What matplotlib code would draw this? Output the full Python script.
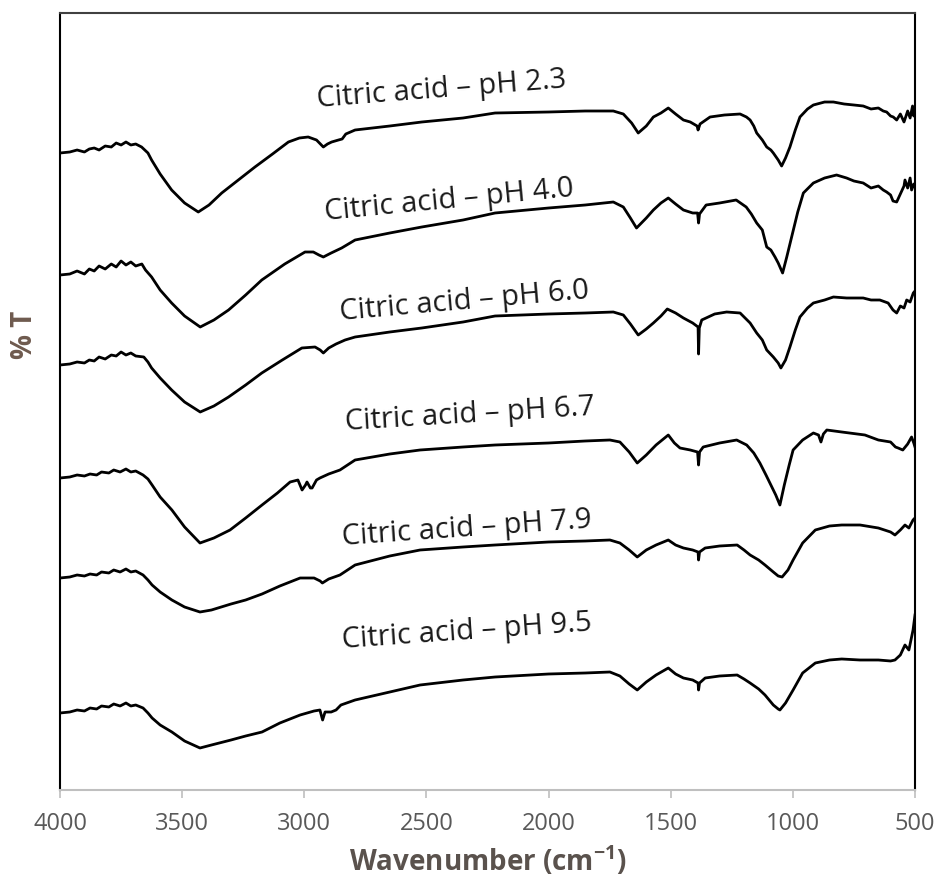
import matplotlib

matplotlib.use('Agg')

import matplotlib.pyplot as plt

plt.rcParams['font.family'] = ['Open Sans', 'DejaVu Sans']
plt.rcParams['mathtext.fontset'] = 'custom'
plt.rcParams['mathtext.rm'] = 'Open Sans'
plt.rcParams['mathtext.bf'] = 'Open Sans:bold'

# FTIR spectra (wavenumber, %T with stacking offset), one list per pH
ph23 = [(4000, 637), (3960, 638), (3930, 640), (3900, 638), (3880, 641), (3860, 642), (3840, 640),
        (3815, 644), (3790, 643), (3770, 647), (3750, 645), (3730, 648), (3710, 645), (3690, 646),
        (3666, 643), (3640, 637), (3625, 630), (3590, 616), (3543, 600), (3490, 587), (3434, 578),
        (3390, 585), (3338, 597), (3270, 610), (3202, 623), (3130, 636), (3065, 648), (3020, 652),
        (2984, 653), (2950, 650), (2922, 643), (2905, 646), (2888, 648), (2860, 650), (2845, 651),
        (2830, 656), (2792, 660), (2650, 664), (2519, 668), (2350, 672), (2219, 677), (2000, 678),
        (1850, 679), (1735, 679), (1694, 676), (1660, 667), (1633, 657), (1600, 664), (1571, 673),
        (1540, 677), (1510, 682), (1480, 676), (1448, 670), (1420, 668), (1392, 664), (1388, 660),
        (1380, 666), (1339, 673), (1280, 675), (1216, 676), (1190, 673), (1175, 670), (1160, 664),
        (1148, 657), (1125, 650), (1107, 643), (1090, 640), (1080, 637), (1060, 630), (1046, 624),
        (1030, 632), (1012, 643), (990, 660), (971, 673), (940, 681), (916, 685), (870, 688),
        (834, 688), (790, 686), (750, 685), (712, 684), (680, 681), (650, 682), (630, 679),
        (616, 678), (600, 674), (589, 673), (575, 670), (560, 676), (545, 668), (530, 679),
        (520, 672), (510, 684), (505, 674), (500, 680)]

ph40 = [(4000, 515), (3960, 516), (3930, 519), (3900, 516), (3880, 521), (3860, 519), (3840, 524),
        (3815, 521), (3790, 526), (3770, 523), (3750, 529), (3730, 525), (3710, 528), (3690, 524),
        (3665, 526), (3650, 520), (3625, 513), (3590, 500), (3543, 487), (3490, 474), (3426, 463),
        (3370, 470), (3310, 480), (3240, 495), (3174, 510), (3080, 526), (2997, 538), (2963, 538),
        (2940, 535), (2922, 533), (2890, 537), (2847, 542), (2792, 550), (2650, 557), (2519, 563),
        (2350, 570), (2219, 577), (2000, 582), (1850, 585), (1735, 588), (1694, 583), (1665, 572),
        (1640, 562), (1600, 572), (1571, 580), (1540, 587), (1510, 592), (1480, 586), (1448, 580),
        (1410, 577), (1390, 577), (1386, 567), (1382, 576), (1355, 585), (1300, 587), (1232, 590),
        (1191, 583), (1170, 576), (1148, 567), (1125, 560), (1107, 543), (1090, 540), (1073, 533),
        (1060, 527), (1042, 517), (1025, 533), (1005, 553), (980, 578), (957, 597), (916, 607),
        (870, 612), (821, 615), (780, 612), (750, 609), (712, 607), (680, 602), (650, 604),
        (630, 600), (616, 598), (600, 595), (590, 589), (575, 588), (560, 596), (545, 604),
        (541, 610), (530, 602), (520, 612), (514, 600), (505, 606), (500, 603)]

ph60 = [(4000, 425), (3960, 426), (3930, 428), (3900, 427), (3880, 430), (3860, 429), (3840, 433),
        (3815, 431), (3790, 435), (3770, 434), (3750, 438), (3730, 435), (3710, 437), (3690, 434),
        (3657, 433), (3640, 428), (3625, 422), (3590, 412), (3543, 400), (3490, 388), (3426, 378),
        (3370, 384), (3310, 393), (3240, 405), (3174, 417), (3090, 430), (3010, 442), (2956, 443),
        (2935, 440), (2922, 437), (2900, 442), (2870, 446), (2833, 450), (2792, 453), (2650, 458),
        (2519, 462), (2350, 468), (2219, 474), (2000, 476), (1850, 477), (1735, 478), (1694, 475),
        (1665, 466), (1633, 455), (1600, 461), (1571, 467), (1540, 474), (1514, 481), (1480, 477),
        (1448, 472), (1410, 467), (1388, 463), (1386, 436), (1383, 462), (1373, 470), (1320, 476),
        (1271, 478), (1216, 477), (1175, 467), (1148, 457), (1125, 450), (1107, 440), (1080, 433),
        (1060, 427), (1049, 422), (1030, 430), (1012, 443), (990, 460), (971, 473), (940, 482),
        (916, 487), (870, 490), (834, 493), (780, 492), (712, 492), (680, 490), (644, 490),
        (610, 487), (590, 480), (575, 477), (560, 484), (545, 482), (534, 490), (520, 488),
        (507, 497), (500, 499)]

ph67 = [(4000, 312), (3960, 313), (3930, 315), (3900, 314), (3877, 316), (3850, 315), (3830, 318),
        (3800, 317), (3780, 320), (3754, 318), (3730, 321), (3710, 318), (3690, 319), (3660, 315),
        (3640, 311), (3623, 305), (3590, 293), (3542, 280), (3490, 263), (3427, 247), (3370, 252),
        (3304, 260), (3240, 272), (3173, 285), (3110, 297), (3058, 308), (3026, 310), (3009, 300),
        (2995, 305), (2989, 308), (2975, 302), (2968, 302), (2950, 310), (2936, 312), (2900, 316),
        (2854, 320), (2792, 330), (2650, 336), (2526, 340), (2350, 343), (2219, 345), (2000, 347),
        (1850, 349), (1749, 350), (1708, 348), (1670, 338), (1637, 327), (1600, 335), (1560, 345),
        (1510, 355), (1485, 347), (1462, 342), (1420, 340), (1390, 338), (1386, 325), (1382, 338),
        (1367, 343), (1300, 347), (1230, 350), (1189, 345), (1160, 337), (1135, 327), (1110, 315),
        (1090, 305), (1070, 295), (1053, 285), (1035, 305), (1015, 325), (999, 340), (960, 350),
        (916, 357), (895, 355), (885, 348), (875, 356), (861, 360), (800, 358), (705, 355),
        (650, 350), (600, 348), (580, 343), (569, 342), (550, 340), (530, 346), (514, 353),
        (505, 347), (500, 343)]

ph79 = [(4000, 212), (3960, 213), (3930, 215), (3900, 214), (3877, 216), (3850, 215), (3830, 218),
        (3800, 217), (3780, 220), (3754, 218), (3730, 221), (3710, 218), (3690, 219), (3660, 215),
        (3640, 210), (3623, 205), (3590, 198), (3542, 190), (3490, 183), (3427, 178), (3380, 180),
        (3300, 186), (3240, 190), (3173, 196), (3100, 204), (3017, 212), (2960, 212), (2935, 209),
        (2926, 207), (2900, 211), (2854, 215), (2792, 225), (2650, 234), (2526, 240), (2350, 243),
        (2219, 245), (2000, 248), (1850, 249), (1749, 250), (1708, 247), (1670, 240), (1637, 233),
        (1600, 240), (1560, 245), (1510, 250), (1480, 245), (1448, 242), (1410, 240), (1388, 238),
        (1386, 230), (1382, 238), (1359, 242), (1300, 244), (1228, 245), (1200, 240), (1175, 235),
        (1140, 230), (1114, 225), (1080, 218), (1060, 214), (1044, 213), (1020, 220), (999, 230),
        (960, 247), (908, 260), (850, 264), (800, 265), (725, 265), (650, 262), (600, 258),
        (582, 255), (560, 260), (541, 265), (525, 262), (508, 270), (500, 272)]

ph95 = [(4000, 77), (3960, 78), (3930, 80), (3900, 79), (3877, 82), (3850, 81), (3830, 84),
        (3800, 83), (3780, 86), (3754, 84), (3730, 87), (3710, 84), (3690, 85), (3660, 82),
        (3640, 77), (3623, 72), (3590, 65), (3542, 58), (3490, 49), (3427, 42), (3380, 45),
        (3300, 50), (3240, 54), (3173, 58), (3100, 67), (3017, 75), (2960, 79), (2936, 80),
        (2925, 70), (2915, 78), (2890, 78), (2870, 80), (2850, 85), (2792, 90), (2650, 98),
        (2526, 105), (2350, 110), (2219, 113), (2000, 116), (1850, 117), (1749, 118), (1708, 114),
        (1670, 106), (1637, 100), (1600, 108), (1560, 115), (1510, 122), (1480, 116), (1448, 112),
        (1410, 110), (1388, 107), (1386, 100), (1382, 107), (1359, 112), (1300, 114), (1228, 115),
        (1200, 111), (1175, 107), (1140, 101), (1114, 95), (1080, 85), (1060, 81), (1053, 80),
        (1030, 87), (999, 100), (960, 117), (908, 127), (850, 130), (800, 131), (725, 130),
        (650, 130), (600, 129), (582, 130), (560, 135), (541, 145), (525, 140), (508, 160),
        (500, 175)]

spectra = [ph23, ph40, ph60, ph67, ph79, ph95]
labels = ['Citric acid \u2013 pH 2.3', 'Citric acid \u2013 pH 4.0', 'Citric acid \u2013 pH 6.0',
          'Citric acid \u2013 pH 6.7', 'Citric acid \u2013 pH 7.9', 'Citric acid \u2013 pH 9.5']
# where each caption starts (wavenumber, %T) and its tilt
label_pos = [(2948, 683), (2915, 570), (2854, 470), (2833, 360), (2842, 245), (2842, 142)]
label_rot = [4.5, 5.5, 5.0, 3.5, 4.0, 4.0]

fig = plt.figure(figsize=(9.41, 8.85), dpi=100)
ax = fig.add_axes([60 / 941, 95 / 885, 855 / 941, 777 / 885])

for sp, lab, pos, rot in zip(spectra, labels, label_pos, label_rot):
    wn, t = zip(*sp)
    ax.plot(wn, t, '-', color='black', lw=2.0, solid_joinstyle='round')
    ax.text(pos[0], pos[1], lab, fontsize=21, rotation=rot, rotation_mode='anchor',
            ha='left', va='baseline', color='#1a1a1a')

ax.set_xlim(4000, 500)
ax.set_ylim(0, 777)
ax.set_xticks(range(4000, 499, -500))
ax.set_yticks([])
ax.tick_params(axis='x', direction='out', length=6, width=1.2, color='#bfbfbf',
               labelcolor='#595959', labelsize=17, pad=10)

ax.spines['left'].set_color('black')
ax.spines['right'].set_color('black')
ax.spines['top'].set_color('#404040')
ax.spines['bottom'].set_color('#bfbfbf')
for s in ax.spines.values():
    s.set_linewidth(1.5)

ax.set_xlabel('Wavenumber (cm$^{\\mathbf{-1}}$)', fontsize=20, fontweight='bold',
              color='#5a524d', labelpad=6)
fig.text(24 / 941, 1 - 335 / 885, '% T', rotation=90, ha='center', va='center',
         fontsize=20, fontweight='bold', color='#6e5a4e')

fig.savefig('out.png', dpi=100)
